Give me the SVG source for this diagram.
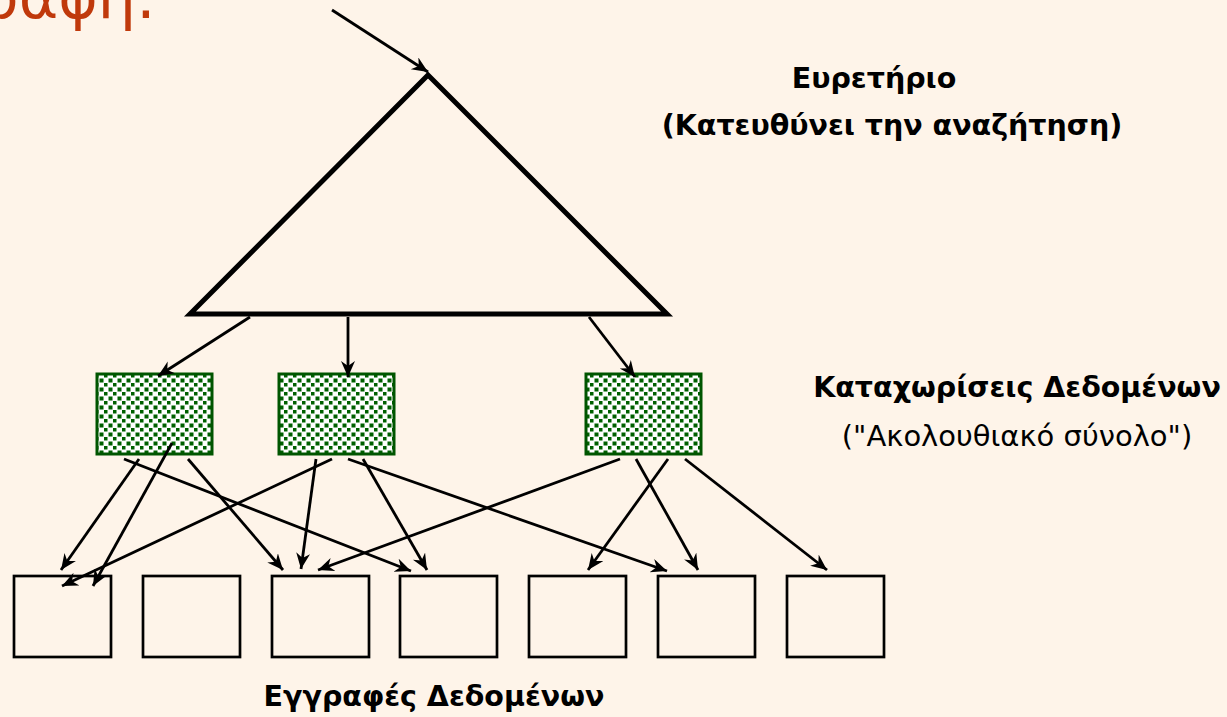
<svg xmlns="http://www.w3.org/2000/svg" width="1227" height="717" viewBox="0 0 1227 717">
<style>
.bg{fill:#FEF4E9}
.conn line{stroke:#000;stroke-width:2.8;marker-end:url(#ah)}
.rec{fill:none;stroke:#000;stroke-width:2.7}
.ent{fill:url(#dots);stroke:#005500;stroke-width:3}
.lbl{font-family:"DejaVu Sans",Verdana,sans-serif;fill:#000;text-anchor:middle}
.b{font-weight:bold;font-size:28.5px}
.r{font-size:29px}
</style>
<defs>
<marker id="ah" markerUnits="userSpaceOnUse" markerWidth="18" markerHeight="16" refX="16" refY="7" orient="auto">
<path d="M0,0 L16,7 L0,14 L5,7 z" fill="#000"/>
</marker>
<pattern id="dots" patternUnits="userSpaceOnUse" width="9" height="9">
<rect width="9" height="9" fill="#fff"/>
<rect x="0.5" y="0.5" width="4" height="4" fill="#006000"/>
<rect x="5" y="5" width="3.5" height="3.5" fill="#006000"/>
</pattern>
</defs>
<rect class="bg" width="1227" height="717"/>
<text x="156" y="18" font-family="DejaVu Sans,sans-serif" font-size="60" fill="#C0390B" text-anchor="end">εγγραφή:</text>

<g id="index">
<polygon points="428,75 190,314 667,314" fill="none" stroke="#000" stroke-width="5" stroke-linejoin="miter"/>
</g>
<g id="entry1"><rect class="ent" x="97" y="374" width="115" height="80"/></g>
<g id="entry2"><rect class="ent" x="279" y="374" width="115" height="80"/></g>
<g id="entry3"><rect class="ent" x="586" y="374" width="115" height="80"/></g>

<g id="rec1"><rect class="rec" x="14" y="576" width="97" height="81"/></g>
<g id="rec2"><rect class="rec" x="143" y="576" width="97" height="81"/></g>
<g id="rec3"><rect class="rec" x="272" y="576" width="97" height="81"/></g>
<g id="rec4"><rect class="rec" x="400" y="576" width="97" height="81"/></g>
<g id="rec5"><rect class="rec" x="529" y="576" width="97" height="81"/></g>
<g id="rec6"><rect class="rec" x="658" y="576" width="97" height="81"/></g>
<g id="rec7"><rect class="rec" x="787" y="576" width="97" height="81"/></g>

<g class="conn" id="connectors">
<line x1="332" y1="10" x2="428" y2="72"/>
<line x1="250" y1="317" x2="158" y2="376"/>
<line x1="348" y1="317" x2="348" y2="377"/>
<line x1="589" y1="317" x2="635" y2="377"/>
<line x1="139" y1="459" x2="61" y2="570"/>
<line x1="172" y1="443" x2="93" y2="586"/>
<line x1="124" y1="459" x2="411" y2="571"/>
<line x1="188" y1="459" x2="283" y2="570"/>
<line x1="332" y1="459" x2="62" y2="586"/>
<line x1="316" y1="459" x2="301" y2="569"/>
<line x1="348" y1="459" x2="667" y2="571"/>
<line x1="363" y1="459" x2="427" y2="570"/>
<line x1="620" y1="459" x2="318" y2="570"/>
<line x1="668" y1="459" x2="588" y2="570"/>
<line x1="636" y1="459" x2="698" y2="570"/>
<line x1="685" y1="459" x2="827" y2="570"/>
</g>

<g id="labels">
<text class="lbl b" x="874" y="88">Ευρετήριο</text>
<text class="lbl b" x="892" y="135">(Κατευθύνει την αναζήτηση)</text>
<text class="lbl b" x="1017" y="397">Καταχωρίσεις Δεδομένων</text>
<text class="lbl r" x="1017" y="446">("Ακολουθιακό σύνολο")</text>
<text class="lbl b" x="434" y="706">Εγγραφές Δεδομένων</text>
</g>
</svg>
